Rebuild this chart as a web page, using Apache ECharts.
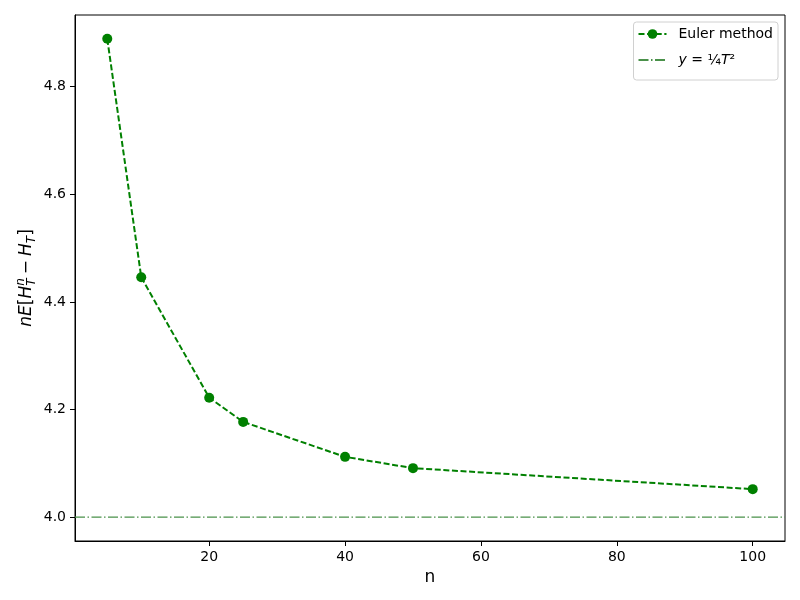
<!DOCTYPE html>
<html>
<head>
<meta charset="utf-8">
<style>
  html, body { margin: 0; padding: 0; background: #fff; }
  #chart { width: 800px; height: 600px; }
</style>
<script src="https://cdn.jsdelivr.net/npm/echarts@6/dist/echarts.min.js"></script>
</head>
<body>
<div id="chart"></div>
<script>
// ---- data ----
const nValues = [5, 10, 20, 25, 40, 50, 100];
const eulerValues = [4.889, 4.446, 4.222, 4.177, 4.112, 4.091, 4.052];
const referenceValue = 4.0;
const xTicks = [20, 40, 60, 80, 100];
const yTicks = [4.0, 4.2, 4.4, 4.6, 4.8];
const xRange = [0.25, 104.75];
const yRange = [3.9556, 4.9333];
const seriesNames = ['Euler method', 'y = 1/4 T^2'];

const FONT = 'DejaVu Sans';
const GREEN = '#008000';
const REF_COLOR = '#4a914a';
const REF_DASH = [10, 2.5, 1.5, 2.5];

const chart = echarts.init(document.getElementById('chart'), null, { renderer: 'canvas' });

// ---- y-axis label (math) built from text pieces ----
function buildYLabel() {
  const ctx = document.createElement('canvas').getContext('2d');
  const big = 17, small = 12;
  const pieces = [
    { t: 'n', it: true, s: big, dy: 0 },
    { t: 'E', it: true, s: big, dy: 0 },
    { t: '[', it: false, s: big, dy: 0 },
    { t: 'H', it: true, s: big, dy: 0 },
    { stack: [ { t: 'n', it: true, s: small, dy: -6 }, { t: 'T', it: true, s: small, dy: 5 } ] },
    { t: '\u2212', it: false, s: big, dy: 0, padL: 4, padR: 4 },
    { t: 'H', it: true, s: big, dy: 0 },
    { t: 'T', it: true, s: small, dy: 5 },
    { t: ']', it: false, s: big, dy: 0 }
  ];
  const fontOf = p => (p.it ? 'italic ' : '') + p.s + 'px "' + FONT + '"';
  const widthOf = p => { ctx.font = fontOf(p); return ctx.measureText(p.t).width; };
  let total = 0;
  pieces.forEach(p => {
    if (p.stack) { p.w = Math.max(...p.stack.map(widthOf)); }
    else { p.w = widthOf(p) + (p.padL || 0) + (p.padR || 0); }
    total += p.w;
  });
  const children = [];
  let x = -total / 2;
  pieces.forEach(p => {
    const list = p.stack ? p.stack : [p];
    list.forEach(q => {
      children.push({
        type: 'text',
        style: {
          text: q.t, x: x + (p.padL || 0), y: q.dy,
          font: fontOf(q), fill: '#000',
          textAlign: 'left', textVerticalAlign: 'middle'
        }
      });
    });
    x += p.w;
  });
  return { type: 'group', x: 27, y: 278, rotation: Math.PI / 2, children: children };
}

const option = {
  animation: false,
  backgroundColor: '#fff',
  textStyle: { fontFamily: FONT },
  grid: {
    left: 75, right: 15, top: 15, bottom: 59,
    show: true, borderColor: '#000', borderWidth: 1,
    backgroundColor: 'transparent',
    containLabel: false, outerBoundsMode: 'none'
  },
  legend: {
    orient: 'vertical',
    right: 22, top: 22,
    data: [
      { name: seriesNames[0] },
      { name: seriesNames[1], itemStyle: { opacity: 0 } }
    ],
    backgroundColor: '#fff',
    borderColor: '#d0d0d0', borderWidth: 1, borderRadius: 3,
    padding: [5, 5, 13, 4],
    itemWidth: 28, itemHeight: 12, itemGap: 12,
    selectedMode: false,
    textStyle: {
      fontFamily: FONT, fontSize: 14, color: '#000', padding: [0, 0, 0, 7],
      rich: {
        i: { fontFamily: FONT, fontSize: 14, fontStyle: 'italic', color: '#000' },
        n: { fontFamily: FONT, fontSize: 14, color: '#000' }
      }
    },
    formatter: function (name) {
      if (name === seriesNames[1]) return '{i|y}{n| = \u00bc}{i|T}{n|\u00b2}';
      return name;
    }
  },
  xAxis: {
    type: 'value',
    min: xRange[0], max: xRange[1],
    name: 'n', nameLocation: 'middle', nameGap: 28,
    nameTextStyle: { fontFamily: FONT, fontSize: 17, color: '#000' },
    axisLine: { show: true, onZero: false, lineStyle: { color: '#000', width: 1 } },
    axisTick: { show: true, length: 5, lineStyle: { color: '#000' }, customValues: xTicks },
    axisLabel: { fontFamily: FONT, fontSize: 14, color: '#000', margin: 9, customValues: xTicks },
    splitLine: { show: false }
  },
  yAxis: {
    type: 'value',
    min: yRange[0], max: yRange[1],
    axisLine: { show: true, onZero: false, lineStyle: { color: '#000', width: 1 } },
    axisTick: { show: true, length: 5, lineStyle: { color: '#000' }, customValues: yTicks },
    axisLabel: {
      fontFamily: FONT, fontSize: 14, color: '#000', margin: 9, customValues: yTicks,
      formatter: v => v.toFixed(1)
    },
    splitLine: { show: false }
  },
  series: [
    {
      name: seriesNames[0],
      type: 'line',
      data: nValues.map((n, i) => [n, eulerValues[i]]),
      symbol: 'circle', symbolSize: 10,
      itemStyle: { color: GREEN },
      lineStyle: { color: GREEN, width: 2, type: [6, 2.6] },
      z: 3
    },
    {
      name: seriesNames[1],
      type: 'line',
      // horizontal reference line spanning the full x range
      data: [[xRange[0], referenceValue], [xRange[1], referenceValue]],
      symbol: 'none',
      silent: true,
      itemStyle: { color: REF_COLOR },
      lineStyle: { color: REF_COLOR, width: 1.2, type: REF_DASH },
      z: 2
    }
  ],
  graphic: [ buildYLabel() ]
};

chart.setOption(option);
</script>
</body>
</html>
